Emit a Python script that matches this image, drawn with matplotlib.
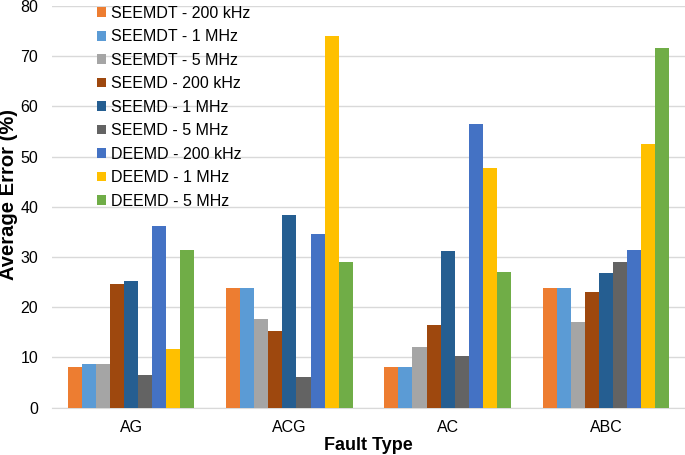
import numpy as np
import matplotlib.pyplot as plt

plt.rcParams['font.family'] = ['Liberation Sans', 'DejaVu Sans']

# Daten
fault_types = ["AG", "ACG", "AC", "ABC"]
series_names = ["SEEMDT - 200 kHz", "SEEMDT - 1 MHz", "SEEMDT - 5 MHz",
                "SEEMD - 200 kHz", "SEEMD - 1 MHz", "SEEMD - 5 MHz",
                "DEEMD - 200 kHz", "DEEMD - 1 MHz", "DEEMD - 5 MHz"]
seemdt_200k = [8.1, 23.9, 8.1, 23.9]
seemdt_1m = [8.6, 23.9, 8.1, 23.9]
seemdt_5m = [8.6, 17.6, 12.1, 17.0]
seemd_200k = [24.6, 15.2, 16.5, 23.0]
seemd_1m = [25.2, 38.3, 31.2, 26.8]
seemd_5m = [6.5, 6.1, 10.3, 29.0]
deemd_200k = [36.1, 34.5, 56.4, 31.3]
deemd_1m = [11.7, 74.0, 47.7, 52.6]
deemd_5m = [31.4, 29.1, 27.1, 71.7]

values = [seemdt_200k, seemdt_1m, seemdt_5m, seemd_200k, seemd_1m,
          seemd_5m, deemd_200k, deemd_1m, deemd_5m]
colors = ["#ED7D31", "#5B9BD5", "#A5A5A5", "#9E480E", "#255E91",
          "#636363", "#4472C4", "#FFC000", "#70AD47"]

fig = plt.figure(figsize=(6.85, 4.55), dpi=100)
ax = fig.add_axes([0.076, 0.104, 0.924, 0.883])

x = np.arange(len(fault_types))
n = len(values)
w = 0.8 / n
for i in range(n):
    ax.bar(x - 0.4 + w * (i + 0.5), values[i], w, color=colors[i],
           label=series_names[i], zorder=3)

ax.set_xlim(-0.5, len(fault_types) - 0.5)
ax.set_ylim(0, 80)
ax.set_yticks(range(0, 81, 10))
ax.set_xticks(x)
ax.set_xticklabels(fault_types)
ax.tick_params(axis="both", length=0, labelsize=11.5, colors="#000000")
ax.tick_params(axis="y", pad=10)
ax.tick_params(axis="x", pad=9)
ax.grid(axis="y", color="#D9D9D9", linewidth=1, zorder=0)
for s in ["top", "right", "left"]:
    ax.spines[s].set_visible(False)
ax.spines["bottom"].set_color("#D9D9D9")

ax.set_xlabel("Fault Type", fontsize=13, fontweight="bold")
ax.xaxis.set_label_coords(0.5, -0.072)
ax.set_ylabel("Average Error (%)", fontsize=14.5, fontweight="bold")
ax.yaxis.set_label_coords(-0.054, 0.53)

ax.legend(loc="upper left", bbox_to_anchor=(0.071, 1.0), frameon=False,
          fontsize=11.5, handlelength=0.55, handleheight=0.55, handletextpad=0.3,
          labelspacing=0.53, borderaxespad=0, borderpad=0)

fig.savefig("out.png", dpi=100)
